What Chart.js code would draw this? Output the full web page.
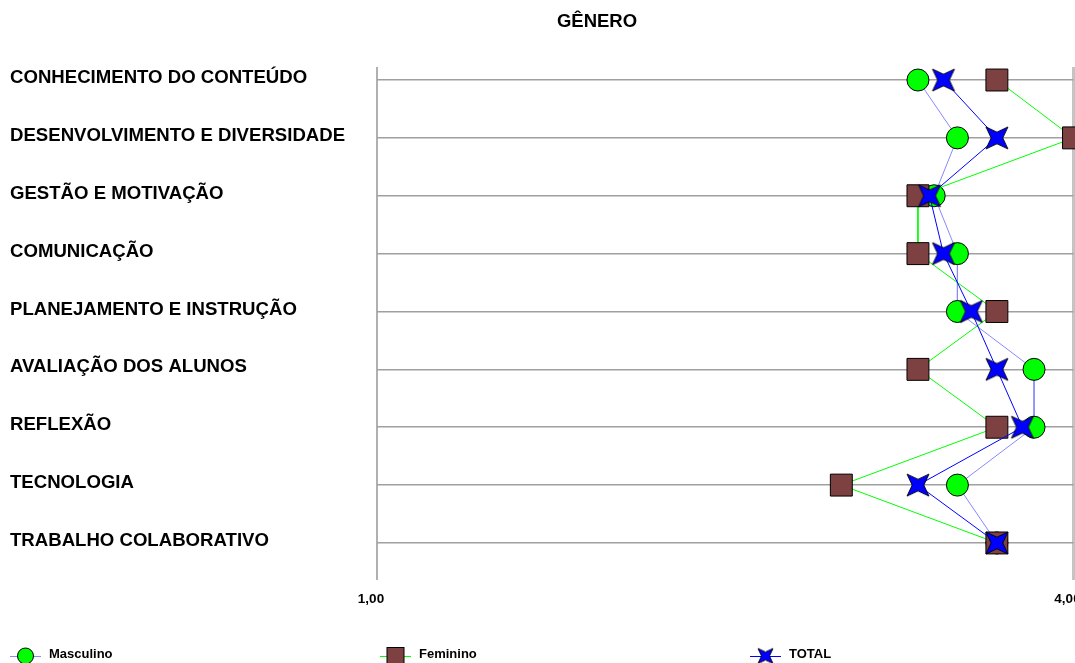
<!DOCTYPE html>
<html>
<head>
<meta charset="utf-8">
<script src="https://cdn.jsdelivr.net/npm/chart.js@4"></script>
<style>
  html, body { margin: 0; padding: 0; background: #fff; overflow: hidden; }
  #wrap { width: 1075px; height: 663px; position: relative; overflow: hidden; }
  #c { display: block; }
</style>
</head>
<body>
<div id="wrap"><canvas id="c" width="1090" height="663"></canvas></div>
<script>
// ---- data ----
const chartTitle = 'GÊNERO';
const categories = [
  'CONHECIMENTO DO CONTEÚDO',
  'DESENVOLVIMENTO E DIVERSIDADE',
  'GESTÃO E MOTIVAÇÃO',
  'COMUNICAÇÃO',
  'PLANEJAMENTO E INSTRUÇÃO',
  'AVALIAÇÃO DOS ALUNOS',
  'REFLEXÃO',
  'TECNOLOGIA',
  'TRABALHO COLABORATIVO'
];
const seriesNames = ['Masculino', 'Feminino', 'TOTAL'];
const masculino = [3.33, 3.50, 3.40, 3.50, 3.50, 3.83, 3.83, 3.50, 3.67];
const feminino  = [3.67, 4.00, 3.33, 3.33, 3.67, 3.33, 3.67, 3.00, 3.67];
const total     = [3.44, 3.67, 3.38, 3.44, 3.56, 3.67, 3.78, 3.33, 3.67];
const xTickValues = [1, 4];

// ---- styling ----
const FONT = '"Liberation Sans", Arial, Helvetica, sans-serif';
const GREEN = '#00ff00';
const BROWN = '#7e4141';
const BLUE = '#0000ff';
const LAVENDER = '#8888ff';

// four-pointed star marker, tips on the diagonals
function starCanvas(size) {
  const pad = 2;
  const c = document.createElement('canvas');
  c.width = c.height = Math.round(size + pad * 2);
  const g = c.getContext('2d');
  const m = c.width / 2, h = size / 2, k = 0.53 * h;
  const outline = [[-h, -h], [0, -k], [h, -h], [k, 0], [h, h], [0, k], [-h, h], [-k, 0]];
  g.beginPath();
  outline.forEach(([x, y], i) => (i ? g.lineTo(m + x, m + y) : g.moveTo(m + x, m + y)));
  g.closePath();
  g.fillStyle = BLUE;
  g.fill();
  g.lineWidth = 0.9;
  g.strokeStyle = '#000';
  g.stroke();
  return c;
}
const starBig = starCanvas(22);
const starSmall = starCanvas(15);

const toPoints = vals => vals.map((v, i) => ({ x: v, y: i }));

// title and series key drawn on the same canvas
const legendX = [10, 380, 750];
const overlay = {
  id: 'overlay',
  afterDraw(chart) {
    const ctx = chart.ctx;
    ctx.save();
    ctx.fillStyle = '#000';
    ctx.font = 'bold 18.5px ' + FONT;
    ctx.textAlign = 'center';
    ctx.textBaseline = 'middle';
    ctx.fillText(chartTitle, 597, 22);

    const y = 656;
    chart.data.datasets.forEach((ds, i) => {
      const x0 = legendX[i];
      ctx.strokeStyle = ds.borderColor;
      ctx.lineWidth = 1;
      ctx.beginPath();
      ctx.moveTo(x0, y + 0.5);
      ctx.lineTo(x0 + 31, y + 0.5);
      ctx.stroke();
      const cx = x0 + 15.5;
      if (ds.pointStyle === 'circle') {
        ctx.beginPath();
        ctx.arc(cx, y, 8, 0, Math.PI * 2);
        ctx.fillStyle = ds.pointBackgroundColor;
        ctx.fill();
        ctx.strokeStyle = '#000';
        ctx.stroke();
      } else if (ds.pointStyle === 'rect') {
        ctx.fillStyle = ds.pointBackgroundColor;
        ctx.fillRect(cx - 8.5, y - 8.5, 17, 17);
        ctx.strokeStyle = '#000';
        ctx.strokeRect(cx - 8.5, y - 8.5, 17, 17);
      } else {
        ctx.drawImage(starSmall, cx - starSmall.width / 2, y - starSmall.height / 2);
      }
      ctx.fillStyle = '#000';
      ctx.font = 'bold 13px ' + FONT;
      ctx.textAlign = 'left';
      ctx.textBaseline = 'middle';
      ctx.fillText(ds.label, x0 + 39, y - 2);
    });
    ctx.restore();
  }
};

new Chart(document.getElementById('c'), {
  type: 'scatter',
  data: {
    datasets: [
      {
        label: seriesNames[0],
        data: toPoints(masculino),
        showLine: true,
        borderColor: LAVENDER,
        borderWidth: 1,
        pointStyle: 'circle',
        pointRadius: 11,
        pointBackgroundColor: GREEN,
        pointBorderColor: '#000',
        pointBorderWidth: 1,
        order: 3,
        clip: false
      },
      {
        label: seriesNames[1],
        data: toPoints(feminino),
        showLine: true,
        borderColor: GREEN,
        borderWidth: 1,
        pointStyle: 'rect',
        pointRadius: 15.5,
        pointBackgroundColor: BROWN,
        pointBorderColor: '#000',
        pointBorderWidth: 1,
        order: 2,
        clip: false
      },
      {
        label: seriesNames[2],
        data: toPoints(total),
        showLine: true,
        borderColor: BLUE,
        borderWidth: 1,
        pointStyle: starBig,
        pointRadius: 11,
        pointBackgroundColor: BLUE,
        pointBorderColor: '#000',
        order: 1,
        clip: false
      }
    ]
  },
  options: {
    responsive: false,
    animation: false,
    events: [],
    layout: { padding: { top: 67, left: 10, right: 2, bottom: 0 } },
    plugins: {
      legend: { display: false },
      title: { display: false },
      tooltip: { enabled: false }
    },
    scales: {
      x: {
        type: 'linear',
        min: 1,
        max: 4,
        afterBuildTicks: s => { s.ticks = xTickValues.map(v => ({ value: v })); },
        afterFit: s => { s.paddingLeft = 0; s.paddingRight = 0; s.height = 83; },
        border: { display: false },
        grid: {
          drawTicks: false,
          color: ctx => ctx.tick && ctx.tick.value === 4 ? '#c4c4c4' : '#b0b0b0',
          lineWidth: ctx => ctx.tick && ctx.tick.value === 4 ? 3 : 2
        },
        ticks: {
          padding: 11,
          labelOffset: -6,
          color: '#000',
          font: { family: FONT, size: 13.5, weight: 'bold' },
          callback: v => v.toFixed(2).replace('.', ',')
        }
      },
      y: {
        type: 'linear',
        reverse: true,
        min: -0.225,
        max: 8.64,
        afterBuildTicks: s => { s.ticks = categories.map((_, i) => ({ value: i })); },
        afterFit: s => { s.width = 367; s.paddingTop = 0; s.paddingBottom = 0; },
        border: { display: false },
        grid: { drawTicks: false, color: '#a0a0a0', lineWidth: 1.5 },
        ticks: {
          crossAlign: 'far',
          padding: 0,
          labelOffset: -2,
          color: '#000',
          font: { family: FONT, size: 18.6, weight: 'bold' },
          callback: v => categories[v] || ''
        }
      }
    }
  },
  plugins: [overlay]
});
</script>
</body>
</html>
